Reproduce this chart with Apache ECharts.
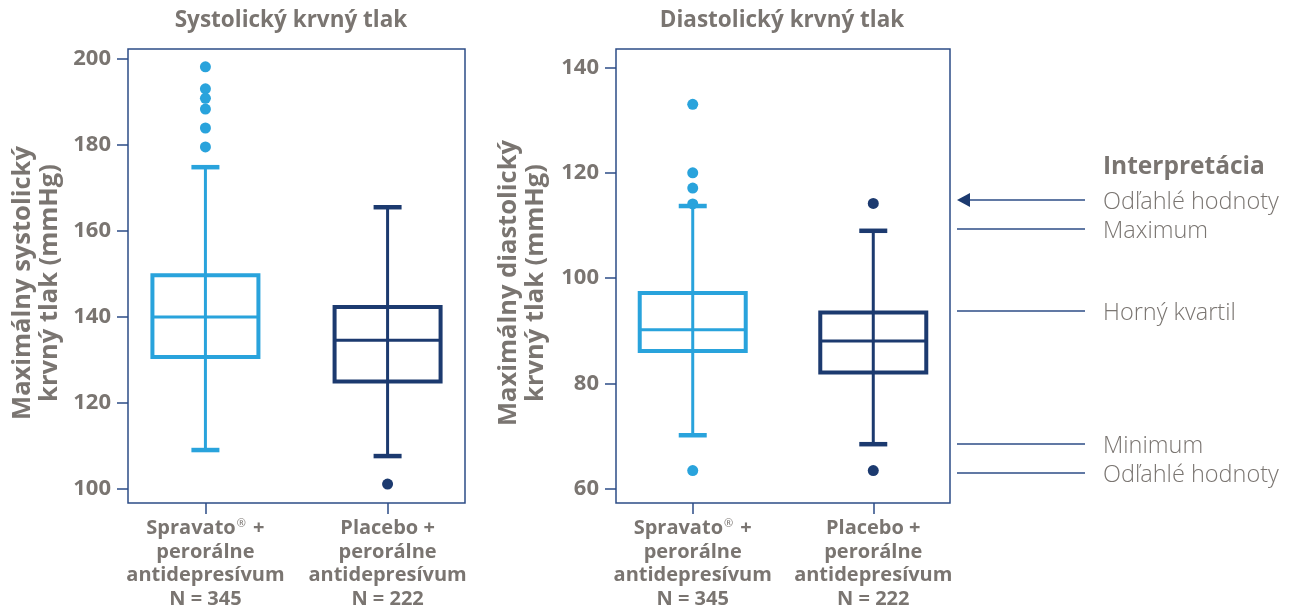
<!DOCTYPE html>
<html>
<head>
<meta charset="utf-8">
<script src="https://cdn.jsdelivr.net/npm/echarts@6/dist/echarts.min.js"></script>
<style>
  html, body { margin: 0; padding: 0; background: #fff; }
  #chart { width: 1300px; height: 613px; }
</style>
</head>
<body>
<div id="chart"></div>
<script>
// groups shown on both x axes
const groupNames = ['Spravato® +', 'Placebo +'];
const groupSub = ['perorálne', 'antidepresívum'];
const groupN = [345, 222];

// box values: [minimum, lower quartile, median, upper quartile, maximum]
const systolicSpravato = [109.1, 130.7, 140.0, 149.7, 174.8];
const systolicPlacebo = [107.7, 125.0, 134.6, 142.3, 165.5];
const systolicSpravatoOutliers = [198.1, 193.0, 190.8, 188.3, 183.9, 179.5];
const systolicPlaceboOutliers = [101.2];

const diastolicSpravato = [70.2, 86.2, 90.2, 97.2, 113.7];
const diastolicPlacebo = [68.5, 82.1, 88.1, 93.5, 109.0];
const diastolicSpravatoOutliers = [133.0, 120.0, 117.1, 114.1, 63.5];
const diastolicPlaceboOutliers = [114.2, 63.5];

const systolicTicks = [100, 120, 140, 160, 180, 200];
const diastolicTicks = [60, 80, 100, 120, 140];

const legendTitle = 'Interpretácia';
const legendLabels = ['Odľahlé hodnoty', 'Maximum', 'Horný kvartil', 'Minimum', 'Odľahlé hodnoty'];

const LIGHT = '#29a3dc';
const DARK = '#1c3a6f';
const FRAME = '#2d4c86';
const GREY = '#7a7571';
const FONT = '"Open Sans", Lato, sans-serif';
const colors = [LIGHT, DARK];

let chart = echarts.init(document.getElementById('chart'));

function xLabel(i) {
  // first line keeps the ® as a small raised mark
  let first = groupNames[i].split('®').map(s => s ? '{b|' + s + '}' : '').join('{sup|®}');
  return [first].concat(groupSub.map(s => '{b|' + s + '}'), ['{b|N = ' + groupN[i] + '}']).join('\n');
}

function xAxisFor(gridIndex) {
  return {
    type: 'value',
    gridIndex: gridIndex,
    min: -0.425,
    max: 1.425,
    splitLine: {show: false},
    axisLine: {show: false, onZero: false},
    axisTick: {show: true, length: 11, customValues: [0, 1], lineStyle: {color: FRAME, width: 1.5}},
    axisLabel: {
      customValues: [0, 1],
      margin: 14,
      formatter: v => xLabel(Math.round(v)),
      rich: {
        b: {fontFamily: FONT, fontSize: 20, fontWeight: 'bold', color: GREY, lineHeight: 23.5},
        sup: {fontFamily: FONT, fontSize: 11, color: GREY, lineHeight: 23.5, padding: [0, 2, 9, 1]}
      }
    }
  };
}

function yAxisFor(gridIndex, min, max, ticks, name, gap) {
  return {
    type: 'value',
    gridIndex: gridIndex,
    min: min,
    max: max,
    splitLine: {show: false},
    axisLine: {show: false, onZero: false},
    axisTick: {show: true, length: 11, customValues: ticks, lineStyle: {color: FRAME, width: 1.5}},
    axisLabel: {customValues: ticks, margin: 17, fontFamily: FONT, fontSize: 22, fontWeight: 'bold', color: GREY},
    name: name,
    nameLocation: 'middle',
    nameGap: gap,
    nameTextStyle: {fontFamily: FONT, fontSize: 25.5, fontWeight: 'bold', color: GREY, lineHeight: 27, padding: [0, 14, 0, 0]}
  };
}

function renderBox(params, api) {
  let x = api.value(0);
  let pt = k => api.coord([x, api.value(k)]);
  let lo = pt(1), q1 = pt(2), med = pt(3), q3 = pt(4), hi = pt(5);
  let cx = lo[0];
  let color = api.visual('color');
  let half = 53, capHalf = 14;
  let line = (x1, y1, x2, y2, w) => ({
    type: 'line',
    shape: {x1: x1, y1: y1, x2: x2, y2: y2},
    style: {stroke: color, lineWidth: w, fill: 'none'}
  });
  return {
    type: 'group',
    children: [
      line(cx, hi[1], cx, lo[1], 3),
      line(cx - capHalf, hi[1], cx + capHalf, hi[1], 4.5),
      line(cx - capHalf, lo[1], cx + capHalf, lo[1], 4.5),
      {
        type: 'rect',
        shape: {x: cx - half, y: q3[1], width: half * 2, height: q1[1] - q3[1]},
        style: {stroke: color, lineWidth: 4, fill: 'none'}
      },
      line(cx - half, med[1], cx + half, med[1], 3)
    ]
  };
}

function boxSeries(gridIndex, boxes) {
  return {
    type: 'custom',
    xAxisIndex: gridIndex,
    yAxisIndex: gridIndex,
    z: 3,
    silent: true,
    renderItem: renderBox,
    encode: {x: 0, y: [1, 2, 3, 4, 5]},
    data: boxes.map((b, i) => ({value: [i].concat(b), itemStyle: {color: colors[i]}}))
  };
}

function outlierSeries(gridIndex, idx, values) {
  return {
    type: 'scatter',
    xAxisIndex: gridIndex,
    yAxisIndex: gridIndex,
    z: 2,
    silent: true,
    symbolSize: 11,
    itemStyle: {color: colors[idx], opacity: 1},
    data: values.map(v => [idx, v])
  };
}

// legend on the right: guide lines and labels
let legendY = [200, 229, 311, 444, 473];
let legendGraphics = [{
  type: 'text',
  x: 1103,
  y: 167,
  style: {text: legendTitle, fontFamily: FONT, fontSize: 24.5, fontWeight: 'bold', fill: GREY, textVerticalAlign: 'middle'}
}];
legendLabels.forEach(function (label, i) {
  let y = legendY[i];
  legendGraphics.push({
    type: 'line',
    shape: {x1: i === 0 ? 966 : 957, y1: y, x2: 1085, y2: y},
    style: {stroke: FRAME, lineWidth: 1.3}
  });
  legendGraphics.push({
    type: 'text',
    x: 1103,
    y: y + 2,
    style: {text: label, fontFamily: FONT, fontSize: 23.5, fontWeight: 300, fill: GREY, textVerticalAlign: 'middle'}
  });
});
legendGraphics.push({
  type: 'polygon',
  shape: {points: [[957, 200], [970, 193], [970, 207]]},
  style: {fill: DARK}
});

chart.setOption({
  animation: false,
  title: [
    {
      text: 'Systolický krvný tlak', left: 286, top: 4, textAlign: 'center',
      textStyle: {fontFamily: FONT, fontSize: 22.5, fontWeight: 'bold', color: GREY}
    },
    {
      text: 'Diastolický krvný tlak', left: 777, top: 4, textAlign: 'center',
      textStyle: {fontFamily: FONT, fontSize: 22.5, fontWeight: 'bold', color: GREY}
    }
  ],
  grid: [
    {left: 128, top: 49, width: 337, height: 454, outerBoundsMode: 'none', containLabel: false,
      show: true, borderColor: FRAME, borderWidth: 1.5, backgroundColor: 'transparent'},
    {left: 616, top: 49, width: 334, height: 454, outerBoundsMode: 'none', containLabel: false,
      show: true, borderColor: FRAME, borderWidth: 1.5, backgroundColor: 'transparent'}
  ],
  xAxis: [xAxisFor(0), xAxisFor(1)],
  yAxis: [
    yAxisFor(0, 96.8, 202.25, systolicTicks, 'Maximálny systolický\nkrvný tlak (mmHg)', 65),
    yAxisFor(1, 57.34, 143.5, diastolicTicks, 'Maximálny diastolický\nkrvný tlak (mmHg)', 67)
  ],
  series: [
    boxSeries(0, [systolicSpravato, systolicPlacebo]),
    outlierSeries(0, 0, systolicSpravatoOutliers),
    outlierSeries(0, 1, systolicPlaceboOutliers),
    boxSeries(1, [diastolicSpravato, diastolicPlacebo]),
    outlierSeries(1, 0, diastolicSpravatoOutliers),
    outlierSeries(1, 1, diastolicPlaceboOutliers)
  ],
  graphic: legendGraphics
});
</script>
</body>
</html>
